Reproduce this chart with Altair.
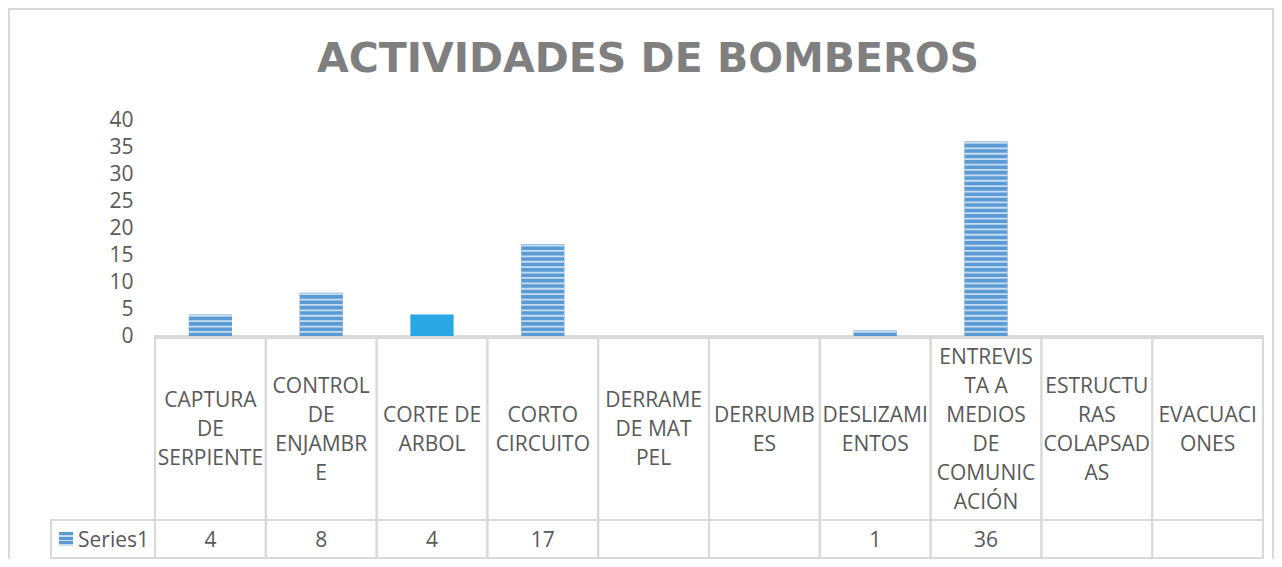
import altair as alt
import pandas as pd

# ---------------- data ----------------
title_text = "ACTIVIDADES DE BOMBEROS"
series_name = "Series1"
categories = [
    "CAPTURA DE SERPIENTE",
    "CONTROL DE ENJAMBRE",
    "CORTE DE ARBOL",
    "CORTO CIRCUITO",
    "DERRAME DE MAT PEL",
    "DERRUMBES",
    "DESLIZAMIENTOS",
    "ENTREVISTA A MEDIOS DE COMUNICACIÓN",
    "ESTRUCTURAS COLAPSADAS",
    "EVACUACIONES",
]
category_lines = [
    "CAPTURA\nDE\nSERPIENTE",
    "CONTROL\nDE\nENJAMBR\nE",
    "CORTE DE\nARBOL",
    "CORTO\nCIRCUITO",
    "DERRAME\nDE MAT\nPEL",
    "DERRUMB\nES",
    "DESLIZAMI\nENTOS",
    "ENTREVIS\nTA A\nMEDIOS\nDE\nCOMUNIC\nACIÓN",
    "ESTRUCTU\nRAS\nCOLAPSAD\nAS",
    "EVACUACI\nONES",
]
values = [4, 8, 4, 17, None, None, 1, 36, None, None]
y_ticks = [0, 5, 10, 15, 20, 25, 30, 35, 40]

# ---------------- layout ----------------
W, H = 1108, 216
PAD = {"left": 147, "top": 112, "right": 11, "bottom": 223}
TABLE_ROW = 400
TABLE_BOTTOM = 438
SERIES_LEFT = -104
GRID = "#D9D9D9"
TXT = "#595959"
FONT = "Open Sans"
FS = 21
LH = 29
DARK = "#5B9BD5"
LIGHT = "#C9DDF1"
SOLID = "#29A6E3"

df = pd.DataFrame({"category": categories, "label": category_lines, "value": values})
one = pd.DataFrame({"a": [0]})

xenc = alt.X("category:N", scale=alt.Scale(domain=categories, paddingInner=0, paddingOuter=0), axis=None)
yscale = alt.Scale(domain=[0, 40], nice=False, zero=True)
yaxis = alt.Axis(
    values=y_ticks, title=None, grid=False, domain=False, ticks=False,
    labelPadding=22, labelFont=FONT, labelFontSize=FS, labelColor=TXT, labelAlign="right",
)

border = alt.Chart(one).mark_rect(fill="white", fillOpacity=0, stroke=GRID, strokeWidth=2).encode(
    x=alt.value(-146), x2=alt.value(W + 10), y=alt.value(-111), y2=alt.value(480)
)

title = alt.Chart(one).mark_text(
    text=title_text, font="DejaVu Sans", fontWeight="bold", fontSize=41, color="#7F7F7F",
    align="center", baseline="middle"
).encode(x=alt.value(493), y=alt.value(-60))

cells = alt.Chart(df).mark_rect(fill="white", fillOpacity=0, stroke=GRID, strokeWidth=2).encode(
    x=xenc, y=alt.value(H), y2=alt.value(TABLE_BOTTOM)
)

series_cell = alt.Chart(one).mark_rect(fill="white", fillOpacity=0, stroke=GRID, strokeWidth=2).encode(
    x=alt.value(SERIES_LEFT), x2=alt.value(0), y=alt.value(TABLE_ROW), y2=alt.value(TABLE_BOTTOM)
)

row_line = alt.Chart(one).mark_rule(color=GRID, strokeWidth=2).encode(
    x=alt.value(0), x2=alt.value(W), y=alt.value(TABLE_ROW)
)

axis_line = alt.Chart(one).mark_rule(color=GRID, strokeWidth=3).encode(
    x=alt.value(0), x2=alt.value(W), y=alt.value(H + 1.5)
)

bars = alt.Chart(df).transform_filter("isValid(datum.value)").mark_bar(
    width=alt.RelativeBandSize(0.39)
).encode(
    x=xenc,
    y=alt.Y("value:Q", scale=yscale, axis=yaxis),
    color=alt.condition(alt.datum.category == "CORTE DE ARBOL", alt.value(SOLID), alt.value(DARK)),
)

stripes = (
    alt.Chart(df)
    .transform_filter("isValid(datum.value) && datum.category != 'CORTE DE ARBOL'")
    .transform_calculate(k="sequence(0, datum.value)")
    .transform_flatten(["k"])
    .transform_calculate(lo="datum.k + 0.58", hi="datum.k + 0.92")
    .mark_bar(width=alt.RelativeBandSize(0.39), color=LIGHT)
    .encode(x=xenc, y=alt.Y("lo:Q", scale=yscale, axis=yaxis), y2="hi:Q")
)

cell_mid = (H + TABLE_ROW) / 2 + 2
labels = (
    alt.Chart(df)
    .transform_calculate(nl="split(datum.label, '\\n').length")
    .transform_calculate(ypix=f"{cell_mid} - (datum.nl - 1) * {LH / 2}")
    .mark_text(lineBreak="\n", lineHeight=LH, font=FONT, fontSize=FS, color=TXT,
               align="center", baseline="middle")
    .encode(x=xenc, y=alt.Y("ypix:Q", scale=None), text="label:N")
)

value_text = alt.Chart(df).transform_filter("isValid(datum.value)").mark_text(
    font=FONT, fontSize=FS, color=TXT, align="center", baseline="middle"
).encode(x=xenc, y=alt.value(421), text=alt.Text("value:Q", format="d"))

stops = []
n_per = 3
for i in range(n_per):
    a = i / n_per
    b = a + 0.62 / n_per
    c = (i + 1) / n_per
    stops += [
        alt.GradientStop(offset=a, color=DARK), alt.GradientStop(offset=b, color=DARK),
        alt.GradientStop(offset=b, color=LIGHT), alt.GradientStop(offset=c, color=LIGHT),
    ]
marker = alt.Chart(one).mark_rect(
    fill=alt.LinearGradient(gradient="linear", stops=stops, x1=0, x2=0, y1=0, y2=1)
).encode(x=alt.value(-96), x2=alt.value(-82), y=alt.value(412), y2=alt.value(426))

series_label = alt.Chart(one).mark_text(
    text=series_name, font=FONT, fontSize=FS, color=TXT, align="left", baseline="middle"
).encode(x=alt.value(-77), y=alt.value(421))

chart = alt.layer(
    border, title, cells, series_cell, row_line, axis_line, bars, stripes,
    labels, value_text, marker, series_label
).properties(
    width=W, height=H, padding=PAD, autosize=alt.AutoSizeParams(type="none"), background="white"
).configure_view(stroke=None)

chart.save("out.html", embed_options={"renderer": "svg", "actions": False})
